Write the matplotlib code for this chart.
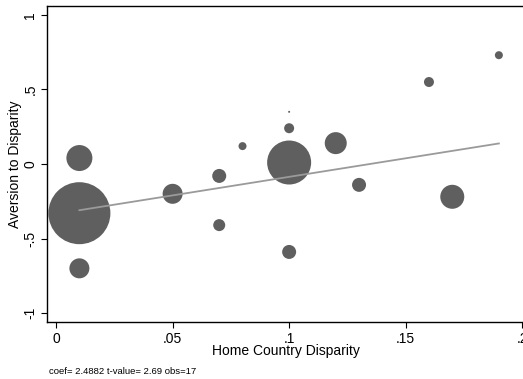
import matplotlib
matplotlib.use("Agg")
import matplotlib.pyplot as plt
import numpy as np

plt.rcParams['font.family'] = ['Liberation Sans', 'DejaVu Sans']

# Data
home_disparity = [0.01, 0.01, 0.01, 0.05, 0.07, 0.07, 0.08, 0.10, 0.10, 0.10, 0.10, 0.12, 0.13, 0.16, 0.17, 0.19]
aversion = [-0.33, 0.04, -0.70, -0.20, -0.08, -0.41, 0.12, 0.35, 0.24, 0.01, -0.59, 0.14, -0.14, 0.55, -0.22, 0.73]
weights = [961, 169, 100, 100, 49, 36, 16, 1, 25, 484, 49, 121, 49, 25, 144, 16]
fit_slope = 2.4882
fit_intercept = -0.335
xticks = [0, 0.05, 0.10, 0.15, 0.20]
xticklabels = ["0", ".05", ".1", ".15", ".2"]
yticks = [-1, -0.5, 0, 0.5, 1]
yticklabels = ["-1", "-.5", "0", ".5", "1"]
note = "coef= 2.4882 t-value= 2.69 obs=17"

fig = plt.figure(figsize=(5.23, 3.79), dpi=100)
ax = fig.add_axes([47/523, 1 - 322/379, 1 - 47/523 + 0.002, (322 - 6)/379])

sizes = [(2 * np.sqrt(w) * 0.72) ** 2 for w in weights]
ax.scatter(home_disparity, aversion, s=sizes, color='#5f5f5f', edgecolors='none', zorder=2)

xf = np.array([min(home_disparity), max(home_disparity)])
ax.plot(xf, fit_intercept + fit_slope * xf, color='#9a9a9a', lw=1.3, zorder=3)

ax.set_xlim(-0.0039, 0.2008)
ax.set_ylim(-1.06, 1.06)
ax.set_xticks(xticks)
ax.set_xticklabels(xticklabels, fontsize=10)
ax.set_yticks(yticks)
ax.set_yticklabels(yticklabels, fontsize=10, rotation=90, va='center')
ax.tick_params(direction='out', length=4.5, width=0.8, color='black', pad=2.5)
ax.spines['right'].set_visible(False)
for s in ['left', 'bottom', 'top']:
    ax.spines[s].set_linewidth(1.0)

ax.set_xlabel("Home Country Disparity", fontsize=10, labelpad=-1)
ax.set_ylabel("Aversion to Disparity", fontsize=10, labelpad=1)

fig.text(49/523, 1 - 371/379, note, fontsize=6.8, va='center', ha='left')

fig.savefig("out.png", dpi=100)
